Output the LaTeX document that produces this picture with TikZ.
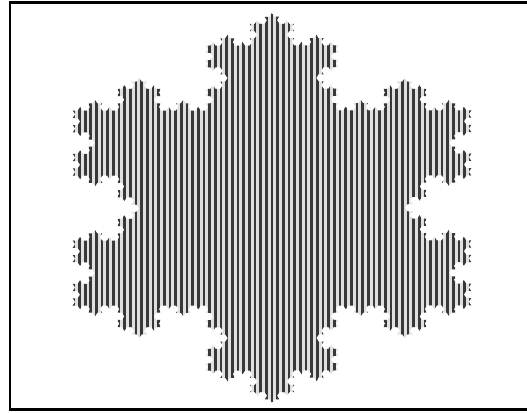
\documentclass[tikz,border=0pt]{standalone}
\usetikzlibrary{decorations.fractals}

\begin{document}
\begin{tikzpicture}[x=1pt, y=-1pt,
  frame/.style={draw=black, line width=2.6pt},
  flake/.style={decoration=Koch snowflake},
  hatch/.style={draw=black!78, line width=2.4pt}]
\useasboundingbox (0,0) rectangle (527,412);
% outer frame (right side runs off the page)
\draw[frame] (530,2.3) -| (10,409.5) -- (530,409.5);
% snowflake, stretched sideways and filled with vertical stripes
\begin{scope}[transform canvas={shift={(272pt,-208pt)}, xscale=1.18}]
  \coordinate (top) at (0,-195);
  \coordinate (right) at (168.9,97.5);
  \coordinate (left) at (-168.9,97.5);
  \begin{scope}
    \clip[flake] decorate{decorate{decorate{decorate{(top) -- (right) -- (left) -- cycle}}}};
    \fill[black!12] (-200,-210) rectangle (200,210);
    \foreach \i in {-45,...,45}
      \draw[hatch] (\i*4.8,-210) -- (\i*4.8,210);
  \end{scope}
\end{scope}
\end{tikzpicture}
\end{document}
